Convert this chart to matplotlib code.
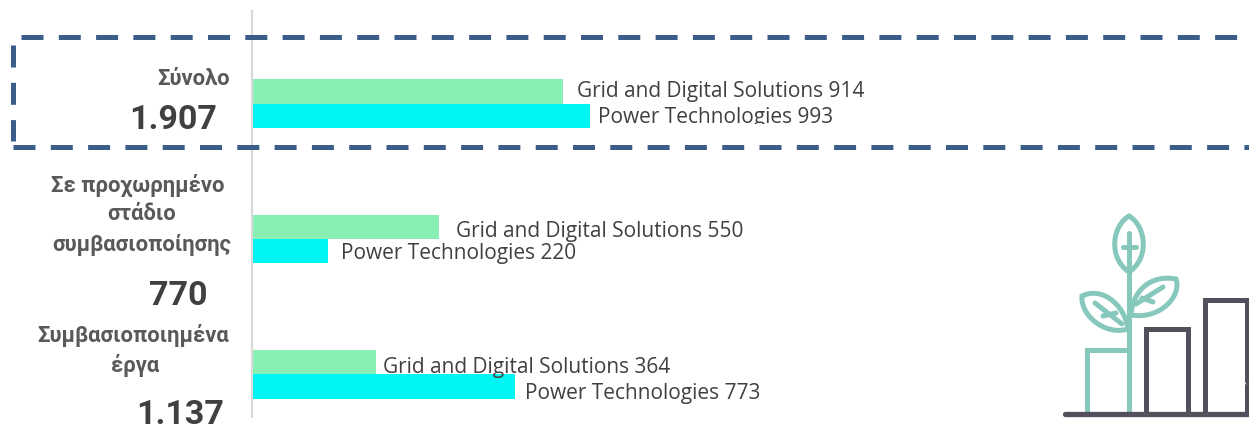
import matplotlib
matplotlib.use('Agg')
import matplotlib.pyplot as plt
from matplotlib.path import Path
from matplotlib.patches import PathPatch, Rectangle

W, H = 1249, 425

# Data
grid_values = [914, 550, 364]
power_values = [993, 220, 773]
grid_name = 'Grid and Digital Solutions'
power_name = 'Power Technologies'

# Label placement relative to bar end, in pixels (dx, dy)
grid_offsets = [(14, -6), (17, -10.5), (7, -10.5)]
power_offsets = [(8, -7), (13, -7.5), (10, -12.5)]

GREEN = '#8aefb5'
CYAN = '#00f5f5'
TEXT = '#404040'
LABEL = '#595959'
BLUE = '#3b5d8a'
TEAL = '#86c8bc'
DARK = '#544f5c'

fig = plt.figure(figsize=(W / 100, H / 100), dpi=100)

# overlay in pixel coordinates for the box, captions and icon
bg = fig.add_axes([0, 0, 1, 1])
bg.set_xlim(0, W)
bg.set_ylim(H, 0)
bg.axis('off')

# bars
top_px, bottom_px = 62.85, 415.15
ax = fig.add_axes([253 / W, 1 - bottom_px / H, (W - 253) / W, (bottom_px - top_px) / H])
ax.patch.set_alpha(0)
ax.set_xlim(0, (W - 253) / 0.339)
ax.set_ylim(2.3, -0.3)
ax.axis('off')

rows = range(len(grid_values))
bar_h = 0.18
ax.barh([r - bar_h / 2 for r in rows], grid_values, height=bar_h, color=GREEN)
ax.barh([r + bar_h / 2 for r in rows], power_values, height=bar_h, color=CYAN)

bar_font = dict(family='Open Sans', fontsize=15.05, color=TEXT, va='baseline', ha='left',
                textcoords='offset points', annotation_clip=False)
texts = []
for r in rows:
    dx, dy = grid_offsets[r]
    ax.annotate(f'{grid_name} {grid_values[r]}', (grid_values[r], r - bar_h / 2),
                xytext=(dx * 0.72, dy * 0.72), **bar_font)
    dx, dy = power_offsets[r]
    t = ax.annotate(f'{power_name} {power_values[r]}', (power_values[r], r + bar_h / 2),
                    xytext=(dx * 0.72, dy * 0.72), **bar_font)
    texts.append(t)

# descenders of the first label are cut off in the original
clip = Rectangle((590, 60), 300, 64, transform=bg.transData)
texts[0].set_clip_path(clip)
texts[0].set_clip_on(True)

# vertical divider
bg.plot([252, 252], [10, 418], color='#d9d9d9', lw=1.6, solid_capstyle='butt')

# dashed box (3 sides)
dash = dict(color=BLUE, lw=3.6, dashes=(22 / 5, 15.3 / 5), dash_capstyle='butt', zorder=5)
bg.plot([21, W], [37, 37], **dash)
bg.plot([13, W], [147, 147], **dash)
bg.plot([13, 13], [45, 141], **dash)

# left captions
small = dict(family='Roboto', weight='bold', fontsize=15.8, color=LABEL, ha='center', va='baseline')
big = dict(family='Roboto', weight='bold', fontsize=24.5, color=TEXT, ha='center', va='baseline')
bg.text(194, 85, 'Σύνολο', **small)
bg.text(173, 129, '1.907', **big)
bg.text(138, 192, 'Σε προχωρημένο', **small)
bg.text(142, 220, 'στάδιο', **small)
bg.text(142, 251, 'συμβασιοποίησης', **small)
bg.text(178, 305, '770', **big)
bg.text(133, 342, 'Συμβασιοποιημένα', **small)
bg.text(135, 372, 'έργα', **small)
bg.text(180, 424, '1.137', **big)

# icon
icon_lw = 3.6
def line(xs, ys, color):
    bg.plot(xs, ys, color=color, lw=icon_lw, solid_capstyle='round', solid_joinstyle='miter')

def leaf(x0, y0, c1, c2, x1, y1, c3, c4):
    verts = [(x0, y0), c1, c2, (x1, y1), c3, c4, (x0, y0)]
    codes = [Path.MOVETO, Path.CURVE4, Path.CURVE4, Path.CURVE4, Path.CURVE4, Path.CURVE4, Path.CURVE4]
    bg.add_patch(PathPatch(Path(verts, codes), fill=False, edgecolor=TEAL, lw=icon_lw))

line([1087, 1087, 1129], [412, 350, 350], TEAL)
line([1129, 1129], [412, 272], TEAL)
leaf(1129, 272, (1108, 258), (1112, 226), 1129, 216, (1146, 226), (1150, 258))
line([1129, 1129], [233, 268], TEAL)
line([1123, 1136], [247, 247], TEAL)
leaf(1131, 315, (1160, 320), (1182, 296), 1176, 279, (1150, 274), (1132, 292))
line([1136, 1163], [304, 287], TEAL)
line([1142, 1153], [298, 302], TEAL)
leaf(1128, 329, (1105, 336), (1080, 315), 1082, 296, (1102, 286), (1125, 305))
line([1095, 1122], [303, 324], TEAL)
line([1103, 1116], [316, 313], TEAL)

line([1146, 1146, 1188, 1188], [412, 329, 329, 412], DARK)
line([1205, 1205, 1247, 1247], [412, 300, 300, 381], DARK)
line([1247, 1247], [385, 412], DARK)
bg.plot([1065, W], [414, 414], color=DARK, lw=3.8, solid_capstyle='round')

fig.savefig('out.png', dpi=100)
